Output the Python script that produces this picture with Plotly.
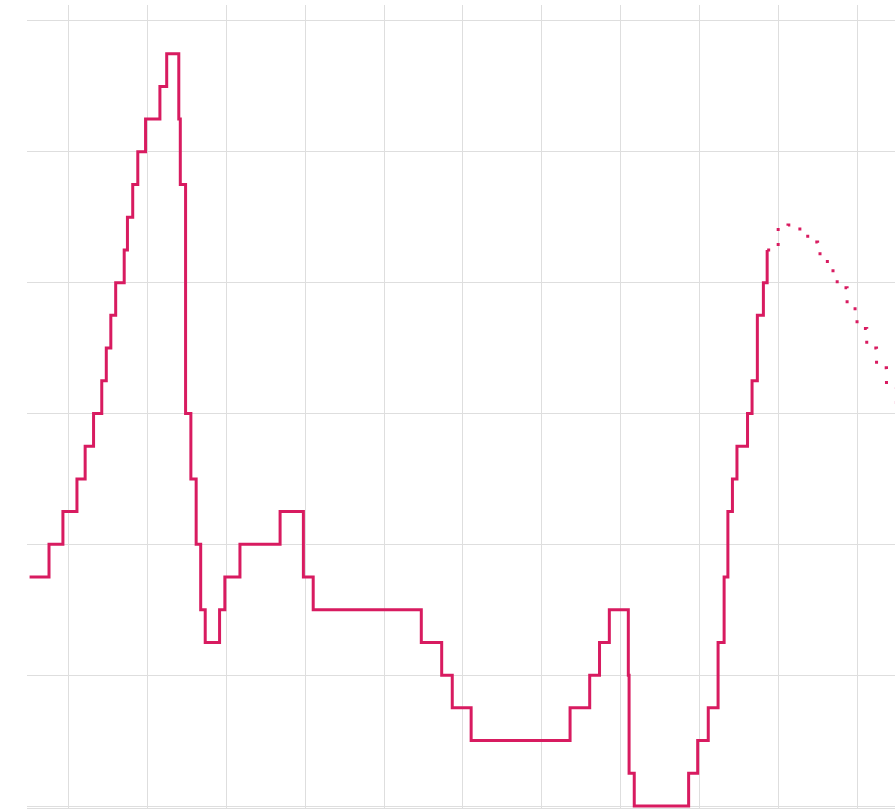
import plotly.graph_objects as go

# Policy rate (step changes), percent
rate_dates = [
    "2005-01-01", "2005-06-30", "2005-11-06", "2006-03-16", "2006-05-31", "2006-08-17",
    "2006-11-01", "2006-12-13", "2007-01-24", "2007-03-10", "2007-05-28", "2007-06-27",
    "2007-08-15", "2007-10-01", "2007-12-12", "2008-04-23", "2008-06-25", "2008-10-15",
    "2008-10-29", "2008-12-17", "2009-02-04", "2009-03-25", "2009-05-06", "2009-06-17",
    "2009-10-28", "2009-12-16", "2010-05-05", "2011-05-12", "2011-12-14", "2012-03-14",
    "2014-12-11", "2015-06-18", "2015-09-24", "2016-03-17", "2018-09-20", "2019-03-21",
    "2019-06-20", "2019-09-19", "2020-03-13", "2020-03-20", "2020-05-07", "2021-09-23",
    "2021-12-16", "2022-03-24", "2022-06-23", "2022-08-18", "2022-09-22", "2022-11-03",
    "2022-12-15", "2023-03-23", "2023-05-04", "2023-06-22", "2023-08-17", "2023-09-21",
]
rate_values = [
    1.75, 2.00, 2.25, 2.50, 2.75, 3.00,
    3.25, 3.50, 3.75, 4.00, 4.25, 4.50,
    4.75, 5.00, 5.25, 5.50, 5.75, 5.25,
    4.75, 3.00, 2.50, 2.00, 1.50, 1.25,
    1.50, 1.75, 2.00, 2.25, 1.75, 1.50,
    1.25, 1.00, 0.75, 0.50, 0.75, 1.00,
    1.25, 1.50, 1.00, 0.25, 0.00, 0.25,
    0.50, 0.75, 1.25, 1.75, 2.25, 2.50,
    2.75, 3.00, 3.25, 3.75, 4.00, 4.25,
]

# Projected path (quarterly), percent
proj_dates = [
    "2023-09-21", "2024-01-01", "2024-04-01", "2024-07-01", "2024-10-01", "2025-01-01",
    "2025-04-01", "2025-07-01", "2025-10-01", "2026-01-01", "2026-04-01", "2026-07-01",
    "2026-10-01", "2027-01-01",
]
proj_values = [
    4.25, 4.42, 4.44, 4.41, 4.31, 4.22,
    4.09, 3.96, 3.80, 3.65, 3.50, 3.35,
    3.20, 3.04,
]

LINE = "#D81B60"
GRID = "#dedede"

fig = go.Figure()
fig.add_trace(go.Scatter(
    x=proj_dates, y=proj_values, mode="lines",
    line=dict(color=LINE, width=3, shape="hv", dash="3px,12px"),
    hoverinfo="skip", showlegend=False,
))
fig.add_trace(go.Scatter(
    x=rate_dates, y=rate_values, mode="lines",
    line=dict(color=LINE, width=3, shape="hv"),
    showlegend=False,
))

fig.update_layout(
    width=895, height=811,
    margin=dict(l=27, r=0, t=5, b=3),
    paper_bgcolor="white", plot_bgcolor="white",
    showlegend=False,
)
fig.update_xaxes(
    type="date", range=["2004-12-08", "2026-12-19"],
    tick0="2006-01-01", dtick="M24",
    showgrid=True, gridcolor=GRID, gridwidth=1,
    showticklabels=False, ticks="",
    showline=True, linecolor=GRID, linewidth=1,
    zeroline=False,
)
fig.update_yaxes(
    range=[-0.0153, 6.122], tick0=0, dtick=1,
    showgrid=True, gridcolor=GRID, gridwidth=1,
    showticklabels=False, ticks="",
    zeroline=False, showline=False,
)

fig.write_html(
    "out.html",
    config={"displayModeBar": False},
    post_script="document.body.style.margin='0';document.body.style.overflow='hidden';",
)
